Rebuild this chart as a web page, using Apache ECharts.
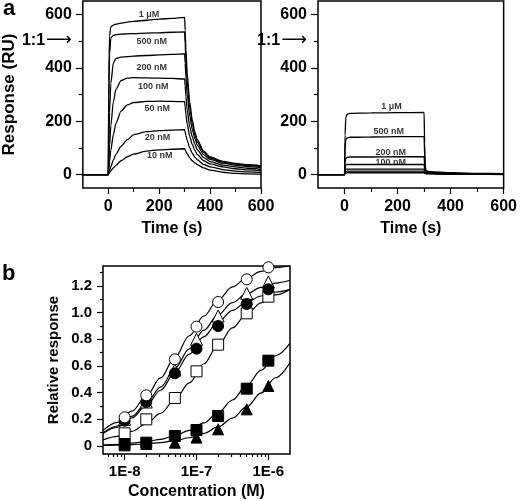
<!DOCTYPE html>
<html><head><meta charset="utf-8">
<script src="https://cdn.jsdelivr.net/npm/echarts@6/dist/echarts.min.js"></script>
<style>html,body{margin:0;padding:0;background:#fff}#c{width:520px;height:501px}</style>
</head><body><div id="c"></div>
<script>
// ---------- Panel a (left): sensorgrams ----------
const timeLeft = [-100, -50, 0, 2, 5, 10, 20, 30, 50, 75, 100, 150, 200, 250, 300, 302, 305, 310, 320, 330, 340, 350, 375, 400, 450, 500, 550, 600];
const left1uM  = [0, 0, 0, 350, 520, 553, 560, 563, 567, 571, 574, 578, 582, 585, 589, 540, 470, 380, 270, 205, 160, 130, 88, 66, 50, 42, 37, 33];
const left500  = [0, 0, 0, 287, 452, 512, 521, 524, 526, 527, 528, 530, 531, 533, 534, 490, 428, 348, 250, 192, 150, 122, 83, 62, 47, 39, 34, 30];
const left200  = [0, 0, 0, 114, 233, 342, 418, 435, 440, 442, 444, 446, 448, 450, 452, 418, 366, 300, 220, 170, 135, 110, 75, 57, 43, 35, 30, 26];
const left100  = [0, 0, 0, 47, 107, 183, 273, 319, 352, 361, 363, 362, 361, 360, 358, 332, 293, 243, 180, 142, 114, 93, 64, 49, 36, 29, 24, 20];
const left50   = [0, 0, 0, 21, 50, 91, 151, 192, 238, 261, 270, 274, 275, 274, 273, 254, 226, 190, 143, 113, 91, 75, 52, 40, 29, 22, 18, 15];
const left20   = [0, 0, 0, 7, 16, 30, 55, 76, 106, 131, 150, 161, 165, 167, 168, 160, 147, 128, 100, 80, 66, 55, 38, 29, 19, 13, 10, 8];
const left10   = [0, 0, 0, 3, 7, 14, 25, 35, 52, 67, 77, 88, 93, 95, 97, 93, 87, 78, 63, 52, 44, 37, 25, 17, 9, 5, 3, 2];
const leftLabels = [["1 μM", 160, 600], ["500 nM", 171, 500], ["200 nM", 171, 401], ["100 nM", 177, 331], ["50 nM", 192, 246], ["20 nM", 193, 140], ["10 nM", 202, 71]];

// ---------- Panel a (right): sensorgrams ----------
const timeRight = [-100, -50, 0, 2, 5, 10, 20, 50, 100, 200, 300, 302, 304, 307, 315, 350, 400, 500, 600];
const right1uM  = [0, 0, 0, 150, 215, 226, 229, 230, 231, 232, 233, 120, 35, 16, 12, 9, 7, 5, 4];
const right500  = [0, 0, 0, 95, 132, 138, 140, 140, 141, 142, 142, 75, 25, 13, 10, 8, 6, 4, 3];
const right200  = [0, 0, 0, 45, 62, 65, 66, 66, 66, 67, 67, 38, 16, 10, 8, 7, 5, 3, 2];
const right100  = [0, 0, 0, 26, 36, 38, 38, 38, 38, 38, 38, 22, 11, 8, 7, 6, 4, 3, 2];
const right50   = [0, 0, 0, 14, 20, 21, 21, 21, 21, 21, 21, 13, 8, 6, 5, 4, 3, 2, 1];
const right20   = [0, 0, 0, 8, 12, 13, 13, 13, 13, 13, 13, 9, 6, 5, 4, 3, 2, 1, 1];
const right10   = [0, 0, 0, 4, 6, 7, 7, 7, 7, 7, 7, 5, 4, 3, 3, 2, 1, 1, 0];
const rightLabels = [["1 μM", 177, 255], ["500 nM", 167, 163], ["200 nM", 174, 83], ["100 nM", 174, 46]];

const timeTicks = [0, 200, 400, 600];
const timeMinor = [100, 300, 500];
const respTicks = [0, 200, 400, 600];
const respLabels = [0, 200, 400, 500, 600];
const respMinor = [100, 300, 500];

// ---------- Panel b: dose response ----------
const conc = [1e-8, 2e-8, 5e-8, 1e-7, 2e-7, 5e-7, 1e-6];
const openCircle     = [0.215, 0.38, 0.65, 0.895, 1.08, 1.25, 1.34];
const openTriangle   = [0.20, 0.33, 0.57, 0.80, 0.975, 1.145, 1.23];
const filledCircle   = [0.19, 0.33, 0.545, 0.73, 0.90, 1.065, 1.175];
const openSquare     = [0.095, 0.20, 0.36, 0.56, 0.76, 0.995, 1.12];
const filledSquare   = [0.015, 0.025, 0.075, 0.12, 0.225, 0.43, 0.64];
const filledTriangle = [0.005, 0.015, 0.025, 0.063, 0.125, 0.275, 0.45];

const fitLogConc = [-8.3, -8.1, -7.9, -7.7, -7.5, -7.3, -7.1, -6.9, -6.7, -6.5, -6.3, -6.1, -5.9, -5.7];
const fitOpenCircle     = [0.117, 0.177, 0.261, 0.373, 0.511, 0.667, 0.827, 0.974, 1.097, 1.193, 1.261, 1.309, 1.338, 1.352];
const fitOpenTriangle   = [0.099, 0.150, 0.222, 0.319, 0.442, 0.582, 0.729, 0.867, 0.984, 1.076, 1.143, 1.190, 1.222, 1.243];
const fitFilledCircle   = [0.093, 0.141, 0.210, 0.302, 0.418, 0.551, 0.689, 0.819, 0.930, 1.017, 1.081, 1.125, 1.155, 1.175];
const fitOpenSquare     = [0.046, 0.072, 0.110, 0.166, 0.245, 0.348, 0.474, 0.615, 0.757, 0.886, 0.992, 1.074, 1.133, 1.174];
const fitFilledSquare   = [0.008, 0.013, 0.021, 0.032, 0.050, 0.077, 0.117, 0.173, 0.250, 0.345, 0.455, 0.569, 0.677, 0.769];
const fitFilledTriangle = [0.004, 0.007, 0.010, 0.016, 0.026, 0.040, 0.062, 0.095, 0.143, 0.209, 0.295, 0.398, 0.512, 0.624];

const concTickLabels = [1e-8, 1e-7, 1e-6];
const relTicks = [0, 0.2, 0.4, 0.6, 0.8, 1.0, 1.2];
const relMinor = [0.1, 0.3, 0.5, 0.7, 0.9, 1.1, 1.3];

// ---------- build ----------
const FONT = '"Liberation Sans", Arial, Helvetica, sans-serif';
const BLACK = '#000';
const concMin = Math.log10(5e-9), concMax = Math.log10(2e-6);
const concMinor = [];
for (let e = -9; e <= -6; e++) for (let k = 2; k <= 9; k++) {
  const v = Math.log10(k * Math.pow(10, e));
  if (v > concMin && v < concMax) concMinor.push(v);
}

function axis(pos, grid, min, max, ticks, len, labels, fmt, fs, margin, name, nameGap, nameSize) {
  const a = {
    type: 'value', gridIndex: grid, min: min, max: max, position: pos, offset: 0,
    axisLine: { show: false, onZero: false }, splitLine: { show: false },
    axisTick: { show: true, inside: false, customValues: ticks, length: len, lineStyle: { color: BLACK, width: 1.2 } },
    axisLabel: { show: false }
  };
  if (labels) {
    a.axisLabel = {
      show: true, customValues: labels, formatter: fmt, fontSize: fs, fontWeight: 'bold',
      fontFamily: FONT, color: BLACK, margin: margin,
      rich: {
        r: { fontSize: fs, fontWeight: 'bold', fontFamily: FONT, color: BLACK },
        ar: { fontSize: fs + 2, fontWeight: 'normal', fontFamily: '"DejaVu Sans"', color: BLACK, padding: [0, 0, 2, 1] }
      }
    };
  }
  if (name) {
    a.name = name; a.nameLocation = 'middle'; a.nameGap = nameGap;
    a.nameTextStyle = { fontSize: nameSize, fontWeight: 'bold', fontFamily: FONT, color: BLACK };
  }
  return a;
}
const respFmt = v => v === 500 ? '{r|1:1}{ar|⟶}' : String(v);

const xAxis = [
  axis('bottom', 0, -100, 600, timeTicks, 6, timeTicks, v => String(v), 16, 11, 'Time (s)', 33, 16),
  axis('bottom', 0, -100, 600, timeMinor, 4, null),
  axis('bottom', 1, -100, 600, timeTicks, 6, timeTicks, v => String(v), 16, 11, 'Time (s)', 33, 16),
  axis('bottom', 1, -100, 600, timeMinor, 4, null),
  axis('bottom', 2, concMin, concMax, concTickLabels.map(Math.log10), 6, concTickLabels.map(Math.log10),
       v => '1E' + Math.round(v), 15, 10, 'Concentration (M)', 30, 16),
  axis('bottom', 2, concMin, concMax, concMinor, 3, null)
];
const yAxis = [
  axis('left', 0, -50, 650, respTicks, 7, respLabels, respFmt, 16, 11, 'Response (RU)', 53, 17),
  axis('left', 0, -50, 650, respMinor, 4, null),
  axis('left', 1, -50, 650, respTicks, 7, respLabels, respFmt, 16, 11),
  axis('left', 1, -50, 650, respMinor, 4, null),
  axis('left', 2, -0.06, 1.35, relTicks, 6, relTicks, v => v === 0 ? '0' : v.toFixed(1), 15, 11, 'Relative response', 42, 15),
  axis('left', 2, -0.06, 1.35, relMinor, 3, null)
];

function zip(xs, ys) { return xs.map((x, i) => [x, ys[i]]); }
const series = [];
function sensor(xi, yi, xs, ys) {
  series.push({ type: 'line', xAxisIndex: xi, yAxisIndex: yi, data: zip(xs, ys), symbol: 'none',
    smooth: 0.25, smoothMonotone: 'x', lineStyle: { color: BLACK, width: 1.3 }, silent: true, z: 2 });
}
[left1uM, left500, left200, left100, left50, left20, left10].forEach(v => sensor(0, 0, timeLeft, v));
[right1uM, right500, right200, right100, right50, right20, right10].forEach(v => sensor(2, 2, timeRight, v));
function labels(xi, yi, arr) {
  series.push({ type: 'scatter', xAxisIndex: xi, yAxisIndex: yi, symbolSize: 0.1, itemStyle: { color: 'transparent' },
    silent: true, z: 5,
    data: arr.map(a => ({ name: a[0], value: [a[1], a[2]] })),
    label: { show: true, position: 'inside', formatter: p => p.name, fontSize: 9, fontWeight: 'bold',
      fontFamily: FONT, color: BLACK } });
}
labels(0, 0, leftLabels);
labels(2, 2, rightLabels);

const logConc = conc.map(Math.log10);
[fitOpenCircle, fitOpenTriangle, fitFilledCircle, fitOpenSquare, fitFilledSquare, fitFilledTriangle].forEach(f => {
  series.push({ type: 'line', xAxisIndex: 4, yAxisIndex: 4, data: zip(fitLogConc, f), symbol: 'none',
    smooth: 0.35, smoothMonotone: 'x', lineStyle: { color: BLACK, width: 1.2 }, silent: true, z: 2 });
});
function markers(vals, symbol, filled, size) {
  series.push({ type: 'scatter', xAxisIndex: 4, yAxisIndex: 4, data: zip(logConc, vals), symbol: symbol,
    symbolSize: size, silent: true, z: 3,
    itemStyle: { color: filled ? BLACK : '#fff', borderColor: BLACK, borderWidth: 1, opacity: 1 } });
}
markers(openSquare, 'rect', false, 11);
markers(filledSquare, 'rect', true, 11);
markers(filledTriangle, 'triangle', true, 11);
markers(openTriangle, 'triangle', false, 12);
markers(filledCircle, 'circle', true, 11);
markers(openCircle, 'circle', false, 11);

const gridStyle = { show: true, borderColor: BLACK, borderWidth: 1.5, backgroundColor: 'transparent', containLabel: false };
const option = {
  animation: false,
  backgroundColor: '#fff',
  title: [
    { text: 'a', left: 3, top: -2, padding: 0, textStyle: { fontSize: 22, fontWeight: 'bold', fontFamily: FONT, color: BLACK } },
    { text: 'b', left: 2, top: 263, padding: 0, textStyle: { fontSize: 22, fontWeight: 'bold', fontFamily: FONT, color: BLACK } }
  ],
  grid: [
    Object.assign({ left: 74, top: 1, width: 187, height: 187 }, gridStyle),
    Object.assign({ left: 318, top: 1, width: 188, height: 187 }, gridStyle),
    Object.assign({ left: 103, top: 266, width: 187, height: 188 }, gridStyle)
  ],
  xAxis: xAxis,
  yAxis: yAxis,
  series: series
};
const chart = echarts.init(document.getElementById('c'), null, { renderer: 'canvas' });
chart.setOption(option);
</script>
</body></html>
